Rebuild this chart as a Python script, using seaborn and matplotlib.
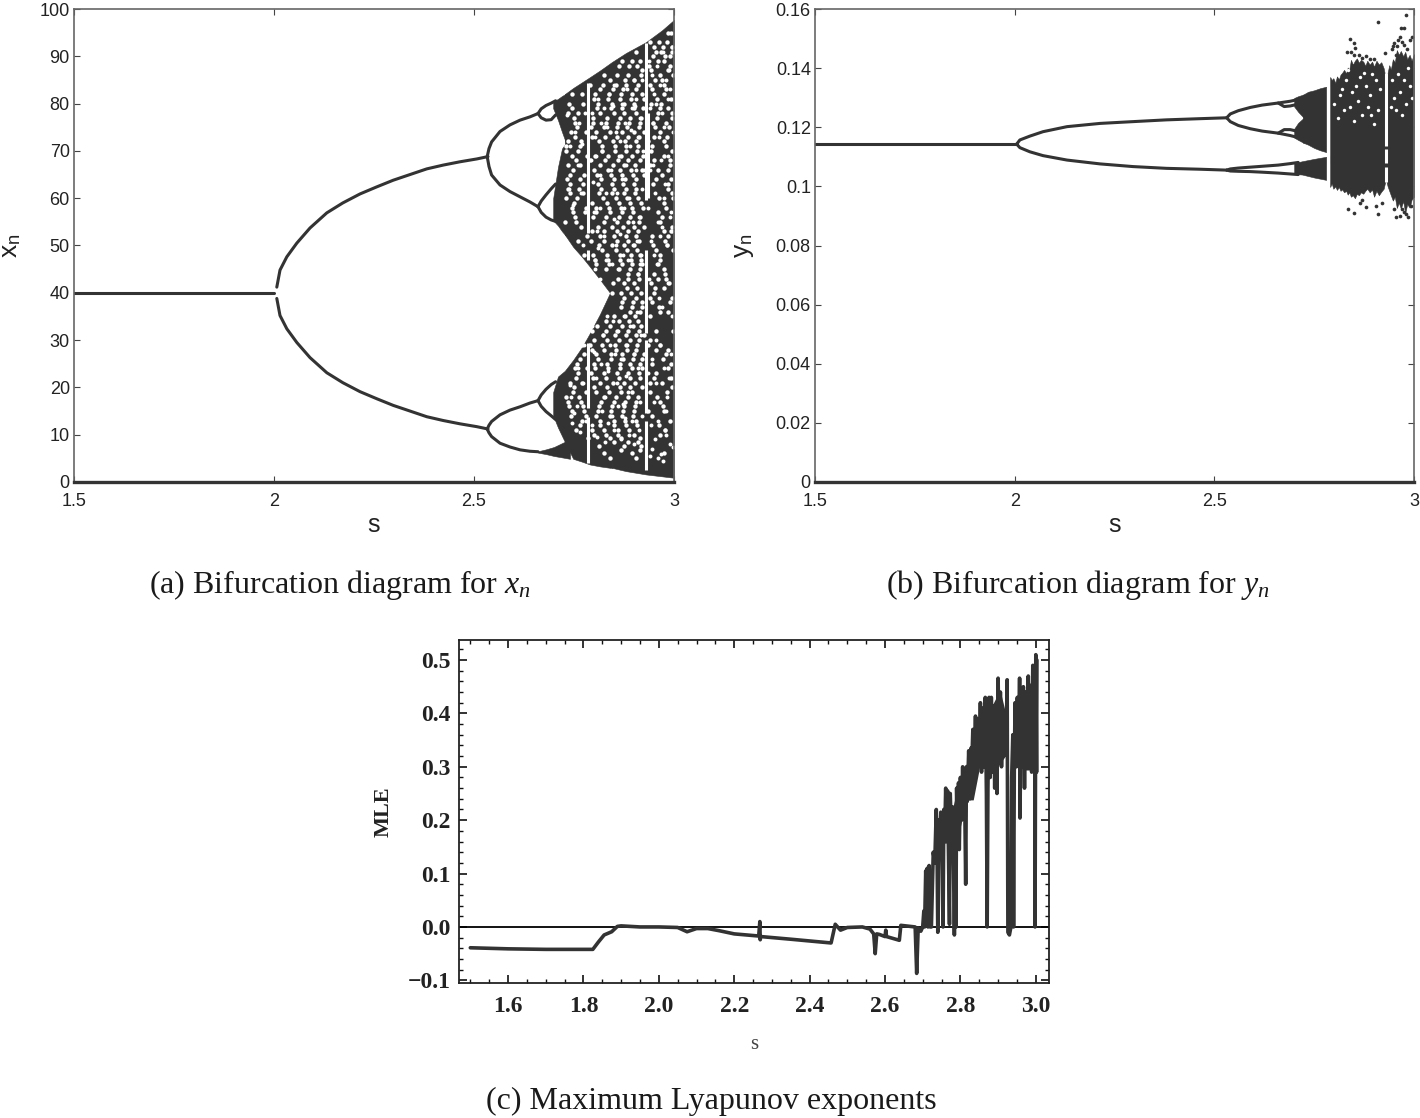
import matplotlib
matplotlib.use('Agg')
import matplotlib.pyplot as plt
import seaborn as sns
from matplotlib.ticker import MultipleLocator

DARK = '#333333'

# panel a, period doubling branches (s values, x values)
a_s1 = [1.5, 2.0]
a_x1 = [40, 40]
a_s2 = [2.007, 2.015, 2.032, 2.057, 2.09, 2.132, 2.172, 2.215, 2.257, 2.298, 2.34, 2.382, 2.423, 2.465, 2.507, 2.535]
a_up = [41.2, 44.8, 47.6, 50.5, 53.7, 56.9, 59, 60.9, 62.4, 63.8, 65, 66.2, 67, 67.7, 68.3, 68.8]
a_lo = [38.8, 35.2, 32.4, 29.5, 26.3, 23.1, 21, 19.1, 17.6, 16.2, 15, 13.8, 13, 12.3, 11.7, 11.2]
a_s3 = [2.533, 2.5375, 2.544, 2.565, 2.59, 2.615, 2.64, 2.66]
a_b1 = [68.8, 70.5, 71.9, 74.1, 75.5, 76.5, 77.2, 77.9]
a_b2 = [68.8, 66.7, 64.9, 62.8, 61.4, 60.3, 59.2, 58.2]
a_b3 = [11.2, 12, 12.8, 14.2, 15.2, 15.9, 16.7, 17.2]
a_b4 = [11.2, 10.4, 9.6, 8.2, 7.4, 6.8, 6.5, 6.4]
a_s4 = [2.66, 2.668, 2.68, 2.693, 2.704]
a_l1 = [77.9, 78.9, 79.6, 80.1, 80.6]
a_l2 = [77.9, 77, 76.5, 76.6, 77.6]
a_l3 = [58.2, 59.4, 60.7, 62, 63]
a_l4 = [58.2, 57, 56, 55.4, 55.1]
a_l5 = [17.2, 18.4, 19.6, 20.6, 21.2]
a_l6 = [17.2, 16, 14.9, 14, 13.2]

# panel a, chaotic bands (s, low edge, high edge)
c1_s = [2.698, 2.71, 2.72, 2.73]
c1_lo = [79, 76.5, 74, 71.7]
c1_hi = [80.4, 81, 81.6, 82.1]
c2_s = [2.698, 2.71, 2.72, 2.73]
c2_lo = [55.3, 54.2, 53, 52]
c2_hi = [60, 66.6, 70.5, 71.7]
c3_s = [2.727, 2.748, 2.77, 2.79, 2.815, 2.84, 2.845, 2.88, 2.93, 2.97, 3.0]
c3_lo = [52.3, 49.7, 47.6, 45.5, 42.8, 40, 3, 2.3, 1.6, 1.2, 0.9]
c3_hi = [82, 83.3, 84.5, 85.6, 87, 88.5, 88.8, 90.7, 93, 95.5, 97.7]
c4_s = [2.698, 2.71, 2.727, 2.748, 2.77, 2.79, 2.815, 2.84, 2.846]
c4_lo = [14, 11.5, 8.5, 4.9, 4.3, 3.7, 3.3, 3, 3]
c4_hi = [19, 22.3, 23.5, 25.8, 28.5, 31.5, 35.5, 40, 40]
c5_s = [2.66, 2.68, 2.70, 2.727, 2.74]
c5_lo = [6.2, 5.9, 5.5, 5.1, 4.9]
c5_hi = [6.5, 6.9, 7.4, 8.5, 9]

# panel a, white periodic windows
w_s = [2.785, 2.785, 2.785, 2.785, 2.93, 2.93, 2.93, 2.93, 2.936]
w_lo = [52.6, 47, 15.6, 4, 59.6, 31.5, 14.6, 2.5, 60]
w_hi = [84.4, 49, 29.4, 13.7, 92.8, 49, 30, 13, 78]

# panel a, white gaps in the chaos, read row by row
row_y = [95, 92, 93, 90, 91, 87, 89, 88, 85, 86,
         83, 81, 84, 79, 76, 78, 82, 75, 80, 77,
         71, 74, 68, 72, 66, 70, 65, 73, 67, 69,
         60, 63, 56, 64, 58, 55, 61, 59, 62, 57,
         51, 54, 48, 52, 46, 53, 50, 47, 49, 45,
         42, 37, 44, 39, 36, 41, 38, 43, 35, 40,
         34, 31, 33, 30, 28, 26, 25, 29, 27, 32,
         21, 24, 18, 15, 22, 17, 19, 23, 16, 20,
         12, 14, 11, 13, 9.2, 10, 7.6, 8.4, 6.2, 6.8, 5, 5.6, 3.8, 4.4]
row_s = [[2.985, 2.992], [2.95, 2.972, 2.996], [2.94, 2.962, 2.983], [2.948, 2.978, 2.99], [2.905, 2.955, 2.968, 2.995],
         [2.92, 2.943, 2.984], [2.87, 2.895, 2.915, 2.96, 2.976], [2.862, 2.888, 2.908, 2.937, 2.989], [2.84, 2.878, 2.9, 2.952, 2.97],
         [2.825, 2.858, 2.885, 2.917, 2.964, 2.998], [2.815, 2.847, 2.872, 2.906, 2.946, 2.981], [2.80, 2.835, 2.866, 2.893, 2.924, 2.958, 2.992],
         [2.79, 2.822, 2.855, 2.879, 2.91, 2.939, 2.974], [2.744, 2.808, 2.843, 2.87, 2.9, 2.922, 2.966, 2.986], [2.752, 2.797, 2.83, 2.861, 2.888, 2.914, 2.948, 2.979],
         [2.735, 2.76, 2.815, 2.85, 2.876, 2.906, 2.96, 2.994], [2.745, 2.77, 2.803, 2.838, 2.868, 2.895, 2.92, 2.975], [2.757, 2.792, 2.826, 2.858, 2.882, 2.912, 2.952, 2.987],
         [2.738, 2.773, 2.81, 2.845, 2.874, 2.901, 2.942, 2.968], [2.75, 2.798, 2.832, 2.866, 2.89, 2.918, 2.958, 2.996], [2.731, 2.764, 2.819, 2.853, 2.881, 2.909, 2.944, 2.98],
         [2.742, 2.779, 2.806, 2.84, 2.871, 2.9, 2.925, 2.966], [2.755, 2.79, 2.827, 2.86, 2.886, 2.914, 2.95, 2.99], [2.736, 2.768, 2.813, 2.847, 2.877, 2.904, 2.936, 2.974],
         [2.748, 2.8, 2.834, 2.864, 2.892, 2.92, 2.959, 2.984], [2.729, 2.76, 2.82, 2.852, 2.879, 2.908, 2.943, 2.996], [2.741, 2.776, 2.807, 2.842, 2.87, 2.898, 2.924, 2.969],
         [2.753, 2.794, 2.828, 2.858, 2.885, 2.913, 2.951, 2.982], [2.734, 2.766, 2.815, 2.848, 2.875, 2.902, 2.939, 2.99], [2.745, 2.782, 2.803, 2.836, 2.867, 2.894, 2.922, 2.975],
         [2.731, 2.758, 2.823, 2.855, 2.883, 2.91, 2.962, 2.998], [2.74, 2.773, 2.81, 2.844, 2.872, 2.9, 2.947, 2.985], [2.752, 2.797, 2.83, 2.862, 2.889, 2.916, 2.97],
         [2.733, 2.764, 2.817, 2.85, 2.878, 2.905, 2.955, 2.992], [2.746, 2.78, 2.806, 2.838, 2.868, 2.896, 2.923, 2.98], [2.728, 2.756, 2.825, 2.857, 2.884, 2.912, 2.966],
         [2.74, 2.772, 2.812, 2.846, 2.874, 2.902, 2.994], [2.751, 2.796, 2.832, 2.863, 2.89, 2.918, 2.975], [2.735, 2.763, 2.818, 2.851, 2.879, 2.906, 2.985],
         [2.748, 2.778, 2.804, 2.84, 2.869, 2.897, 2.96], [2.76, 2.792, 2.826, 2.858, 2.885, 2.913, 2.978], [2.768, 2.81, 2.844, 2.873, 2.9, 2.924, 2.995],
         [2.775, 2.798, 2.832, 2.865, 2.892, 2.915, 2.965], [2.782, 2.815, 2.85, 2.88, 2.905, 2.945, 2.985], [2.806, 2.838, 2.87, 2.895, 2.92, 2.96],
         [2.795, 2.825, 2.858, 2.886, 2.91, 2.975, 2.992], [2.812, 2.846, 2.875, 2.901, 2.948, 2.983], [2.802, 2.835, 2.866, 2.893, 2.918, 2.966],
         [2.82, 2.855, 2.882, 2.908, 2.955, 2.998], [2.83, 2.862, 2.89, 2.914, 2.975], [2.848, 2.874, 2.9, 2.943, 2.987], [2.868, 2.895, 2.92, 2.962],
         [2.885, 2.91, 2.95, 2.978], [2.876, 2.904, 2.94, 2.995], [2.89, 2.916, 2.966, 2.985], [2.882, 2.908, 2.952, 2.974], [2.87, 2.897, 2.921, 2.945, 2.99],
         [2.86, 2.886, 2.912, 2.96, 2.98], [2.85, 2.878, 2.903, 2.94], [2.845, 2.868, 2.893, 2.918, 2.95],
         [2.83, 2.862, 2.887, 2.91], [2.822, 2.853, 2.88, 2.905, 2.925], [2.808, 2.84, 2.87, 2.897, 2.918], [2.8, 2.833, 2.862, 2.889, 2.912, 2.94],
         [2.795, 2.825, 2.855, 2.882, 2.905, 2.955, 2.985], [2.765, 2.81, 2.843, 2.872, 2.898, 2.921, 2.972], [2.758, 2.8, 2.832, 2.864, 2.89, 2.914, 2.946, 2.992],
         [2.77, 2.79, 2.82, 2.852, 2.88, 2.908, 2.936, 2.965], [2.748, 2.776, 2.806, 2.842, 2.87, 2.9, 2.924, 2.98], [2.76, 2.795, 2.83, 2.858, 2.886, 2.913, 2.954, 2.997],
         [2.74, 2.77, 2.816, 2.848, 2.876, 2.903, 2.94, 2.97], [2.752, 2.782, 2.803, 2.836, 2.866, 2.894, 2.92, 2.985], [2.73, 2.763, 2.824, 2.856, 2.884, 2.91, 2.958],
         [2.744, 2.776, 2.81, 2.843, 2.872, 2.9, 2.935, 2.975], [2.755, 2.797, 2.83, 2.862, 2.89, 2.916, 2.95, 2.993], [2.735, 2.768, 2.818, 2.85, 2.878, 2.906, 2.965],
         [2.748, 2.78, 2.805, 2.838, 2.868, 2.896, 2.94, 2.982], [2.76, 2.792, 2.826, 2.857, 2.884, 2.912, 2.955], [2.738, 2.772, 2.812, 2.845, 2.874, 2.903, 2.972],
         [2.75, 2.8, 2.833, 2.865, 2.89, 2.92, 2.996], [2.765, 2.815, 2.85, 2.88, 2.908, 2.962], [2.742, 2.78, 2.806, 2.84, 2.87, 2.898, 2.945],
         [2.755, 2.795, 2.826, 2.86, 2.888, 2.978], [2.77, 2.815, 2.85, 2.877, 2.905, 2.99], [2.785, 2.84, 2.868, 2.915],
         [2.8, 2.83, 2.86, 2.9, 2.966], [2.812, 2.875, 2.918], [2.85, 2.885, 2.91], [2.826, 2.896, 2.975], [2.868, 2.915], [2.84, 2.905]]

# panel a, more white gaps, loose points
h_s = [2.733, 2.741, 2.738, 2.752, 2.747, 2.759, 2.744, 2.763, 2.756, 2.771, 2.767, 2.778, 2.749, 2.773, 2.736, 2.758, 2.765, 2.776,
       2.795, 2.802, 2.797, 2.811, 2.806, 2.818, 2.799, 2.814, 2.826, 2.808, 2.821, 2.833, 2.803, 2.829, 2.816, 2.838, 2.793, 2.824, 2.842, 2.809,
       2.847, 2.855, 2.851, 2.862, 2.858, 2.871, 2.866, 2.849, 2.877, 2.869, 2.883, 2.874, 2.889, 2.856, 2.881, 2.895, 2.864, 2.887, 2.901, 2.892,
       2.906, 2.911, 2.904, 2.916, 2.919, 2.913, 2.923, 2.908, 2.921, 2.898, 2.914, 2.925, 2.902, 2.917,
       2.794, 2.801, 2.812, 2.805, 2.823, 2.817, 2.832, 2.827, 2.841, 2.835, 2.848, 2.853, 2.844, 2.861, 2.857, 2.868, 2.875, 2.872, 2.882, 2.879, 2.891, 2.886, 2.899, 2.896, 2.907, 2.91, 2.918, 2.915,
       2.74, 2.752, 2.746, 2.761, 2.769, 2.757, 2.775, 2.734, 2.764, 2.743, 2.772, 2.75, 2.779, 2.755,
       2.796, 2.807, 2.819, 2.828, 2.836, 2.85, 2.859, 2.867, 2.878, 2.888, 2.9, 2.912, 2.92, 2.803, 2.815, 2.831, 2.846, 2.86, 2.873, 2.884, 2.897, 2.909,
       2.938, 2.944, 2.951, 2.958, 2.965, 2.973, 2.98, 2.987, 2.994, 2.941, 2.948, 2.955, 2.962, 2.969, 2.976, 2.984, 2.991, 2.997,
       2.936, 2.947, 2.953, 2.96, 2.967, 2.971, 2.978, 2.986, 2.993, 2.942, 2.95, 2.957, 2.964, 2.975, 2.982, 2.989, 2.996, 2.939,
       2.945, 2.956, 2.966, 2.974, 2.983, 2.992, 2.937, 2.949, 2.961, 2.97, 2.979, 2.988, 2.943, 2.954, 2.963, 2.977, 2.985, 2.995,
       2.952, 2.968, 2.981, 2.99, 2.946, 2.959, 2.972, 2.94, 2.998, 2.935]
h_y = [77.5, 71, 62, 74, 58.5, 67, 48, 76, 42.5, 71.5, 61, 78, 37, 50, 33.5, 29.5, 36, 33,
       78, 73, 63.5, 81, 69, 76, 57, 65, 79, 53, 70, 75, 47, 61, 58, 82, 68, 52, 66, 49.5,
       79.5, 74, 84, 69, 61, 80, 72, 55.5, 76, 64, 83, 58, 71, 50, 67, 79, 52.5, 60, 85, 74.5,
       81, 73, 66, 77, 62, 56, 70, 51, 85, 55, 46, 66, 79.5, 48,
       33, 27.5, 37, 22, 31, 25, 35, 18, 29, 23.5, 34, 27, 14, 32, 21, 26, 35, 16.5, 29, 22.5, 33, 19, 27, 13, 36, 24, 31, 17,
       20.5, 30, 12.5, 24, 38, 16, 29, 27, 10.5, 18, 21, 14.5, 13, 43,
       12, 9.5, 15, 8.5, 12.5, 11, 16, 9, 13.5, 10, 8, 11, 14, 45, 43, 47, 46, 45, 48, 47, 50, 44,
       89, 86, 82, 88, 84, 91, 85, 87, 92, 79, 76, 80, 73, 78, 75, 81, 83, 74,
       58, 67, 61, 55, 68, 54, 63, 69, 57, 51, 48, 46, 52, 60, 50, 56, 53, 66,
       26, 21, 29, 24, 18, 27, 43, 17, 13, 37, 15, 22, 12, 30, 39, 11, 42, 35,
       9, 6, 10, 8, 7, 5, 4.5, 5.5, 7.5, 23]

# panel b, branches
b_s1 = [1.5, 2.005]
b_y1 = [0.1143, 0.1143]
b_s2 = [2.005, 2.013, 2.038, 2.071, 2.131, 2.214, 2.296, 2.38, 2.464, 2.531]
b_up = [0.1143, 0.1157, 0.117, 0.1185, 0.1202, 0.1213, 0.1219, 0.1225, 0.1229, 0.1232]
b_dn = [0.1143, 0.1131, 0.1117, 0.1104, 0.1089, 0.1076, 0.1067, 0.1061, 0.1058, 0.1055]
b_s3 = [2.531, 2.54, 2.56, 2.59, 2.62, 2.66, 2.69, 2.71]
b_t1 = [0.1232, 0.1245, 0.1256, 0.1267, 0.1275, 0.1282, 0.1288, 0.1294]
b_t2 = [0.1232, 0.1219, 0.1206, 0.1195, 0.1187, 0.118, 0.1172, 0.1165]
b_t3 = [0.1055, 0.1059, 0.1062, 0.1065, 0.1068, 0.1072, 0.1077, 0.1081]
b_t4 = [0.1055, 0.1052, 0.1051, 0.105, 0.1048, 0.1045, 0.1042, 0.104]
b_s5 = [2.66, 2.675, 2.69, 2.703]
b_k1 = [0.1282, 0.127, 0.1272, 0.1276]
b_k2 = [0.118, 0.1192, 0.1192, 0.1188]

# panel b, chaotic bands
d1_s = [2.70, 2.71, 2.724]
d1_lo = [0.127, 0.1252, 0.1232]
d1_hi = [0.1299, 0.1305, 0.1311]
d2_s = [2.70, 2.71, 2.724]
d2_lo = [0.1165, 0.1157, 0.1147]
d2_hi = [0.1195, 0.1215, 0.1232]
d3_s = [2.722, 2.735, 2.75, 2.765, 2.78]
d3_lo = [0.1148, 0.1141, 0.113, 0.1122, 0.1116]
d3_hi = [0.131, 0.132, 0.1325, 0.1332, 0.1337]
d5_s = [2.70, 2.72, 2.75, 2.78]
d5_lo = [0.1042, 0.104, 0.103, 0.1022]
d5_hi = [0.1079, 0.1085, 0.1093, 0.11]

# panel b, jagged edges of the big band
d4_s = [2.79, 2.794, 2.798, 2.803, 2.807, 2.812, 2.816, 2.82, 2.825, 2.83, 2.834, 2.838, 2.842, 2.847, 2.852, 2.857, 2.862, 2.867, 2.873, 2.878, 2.883, 2.889,
        2.895, 2.9, 2.906, 2.912, 2.918, 2.924, 2.927, 2.93, 2.934, 2.938, 2.942, 2.947, 2.952, 2.957, 2.962, 2.967, 2.973, 2.978, 2.983, 2.989, 2.994, 3.0]
d4_hi = [0.137, 0.136, 0.1366, 0.135, 0.1372, 0.1362, 0.1378, 0.1384, 0.1394, 0.1382, 0.1402, 0.1395, 0.1428, 0.1412, 0.1425, 0.1433, 0.1418, 0.1428, 0.1422, 0.1408, 0.1425, 0.1412,
         0.1422, 0.1405, 0.1425, 0.1412, 0.142, 0.14, 0.138, 0.136, 0.1385, 0.141, 0.1395, 0.143, 0.142, 0.1461, 0.1445, 0.1458, 0.144, 0.1455, 0.143, 0.1445, 0.1425, 0.1448]
d4_lo = [0.0998, 0.101, 0.0992, 0.1, 0.0988, 0.0998, 0.0985, 0.099, 0.098, 0.0985, 0.0972, 0.098, 0.0965, 0.097, 0.096, 0.0975, 0.097, 0.098, 0.0975, 0.0985, 0.0992, 0.098,
         0.099, 0.0965, 0.0985, 0.097, 0.0982, 0.0992, 0.101, 0.1022, 0.1, 0.0985, 0.097, 0.0952, 0.0965, 0.0927, 0.0945, 0.0925, 0.095, 0.091, 0.094, 0.0928, 0.0955, 0.0965]

b_w_s = [2.785, 2.785, 2.93, 2.93, 2.93]
b_w_lo = [0.1015, 0.1105, 0.1015, 0.108, 0.1135]
b_w_hi = [0.1075, 0.134, 0.1065, 0.1125, 0.1385]

# panel b, stray points outside the bands
o_s = [2.84, 2.85, 2.853, 2.832, 2.91, 2.927, 2.98, 2.967, 2.974, 2.955, 2.96, 2.99, 2.995, 2.966, 2.97, 2.95, 2.945,
       2.862, 2.87, 2.88, 2.89, 2.9, 2.85, 2.842, 2.983, 2.948, 2.958, 2.975,
       2.835, 2.85, 2.865, 2.905, 2.91, 2.95, 2.965, 2.976, 2.985, 2.992, 2.87, 2.88, 2.92, 2.955, 2.97, 2.98]
o_y = [0.1498, 0.1485, 0.1468, 0.1455, 0.1555, 0.1452, 0.158, 0.1535, 0.1535, 0.1445, 0.1495, 0.1495, 0.1505, 0.1505, 0.149, 0.1485, 0.1465,
       0.1445, 0.1435, 0.144, 0.1432, 0.143, 0.1445, 0.1455, 0.1465, 0.1475, 0.1475, 0.1478,
       0.0925, 0.091, 0.0945, 0.0935, 0.0905, 0.0925, 0.09, 0.0915, 0.0895, 0.0935, 0.0955, 0.093, 0.0945, 0.0898, 0.0925, 0.0905]

# panel b, white gaps in the upper half
bh_s = [2.80, 2.82, 2.84, 2.86, 2.87, 2.89, 2.91, 2.83, 2.85, 2.88, 2.9, 2.95, 2.97, 2.99, 2.96, 2.98, 2.81, 2.865, 2.895, 2.845,
        2.875, 2.905, 2.815, 2.855, 2.885, 2.945, 2.965, 2.985, 2.835, 2.915, 2.955, 2.975, 2.995, 2.825, 2.892, 2.942]
bh_y = [0.128, 0.133, 0.127, 0.129, 0.124, 0.131, 0.126, 0.136, 0.122, 0.134, 0.121, 0.13, 0.124, 0.134, 0.138, 0.128, 0.123, 0.137, 0.138, 0.132,
        0.1385, 0.136, 0.131, 0.134, 0.127, 0.136, 0.132, 0.14, 0.1395, 0.133, 0.126, 0.136, 0.13, 0.126, 0.124, 0.127]

# panel c, line
m_s = [1.5, 1.6, 1.7, 1.825, 1.84, 1.855, 1.875, 1.89, 1.9, 1.95, 2.0, 2.05, 2.075, 2.1, 2.13, 2.16, 2.2, 2.265, 2.268, 2.269, 2.27,
       2.35, 2.457, 2.468, 2.482, 2.5, 2.54, 2.56, 2.57, 2.574, 2.578, 2.585, 2.6, 2.602, 2.604, 2.638, 2.642, 2.68, 2.684, 2.688, 2.695,
       2.7, 2.703, 2.705, 2.708, 2.71, 2.712, 2.714, 2.717, 2.72, 2.723, 2.728, 2.732, 2.736, 2.738, 2.74, 2.742, 2.745, 2.748, 2.751,
       2.754, 2.756, 2.758, 2.761, 2.763, 2.766, 2.769, 2.771, 2.773, 2.776, 2.779, 2.782, 2.784, 2.786, 2.788, 2.79, 2.793, 2.795,
       2.797, 2.8, 2.803, 2.806, 2.808, 2.811, 2.814, 2.816, 2.818, 2.822, 2.825, 2.828, 2.83, 2.833, 2.836, 2.84, 2.843, 2.846, 2.85,
       2.853, 2.856, 2.86, 2.863, 2.866, 2.869, 2.871, 2.873, 2.876, 2.879, 2.882, 2.885, 2.888, 2.891, 2.894, 2.897, 2.9, 2.903,
       2.906, 2.909, 2.912, 2.915, 2.918, 2.921, 2.924, 2.926, 2.93, 2.934, 2.936, 2.939, 2.941, 2.943, 2.945, 2.948, 2.951, 2.955,
       2.957, 2.958, 2.961, 2.964, 2.967, 2.97, 2.973, 2.976, 2.98, 2.983, 2.986, 2.989, 2.992, 2.994, 2.997, 2.998, 3.0, 3.002, 3.003]
m_v = [-0.039, -0.041, -0.042, -0.042, -0.028, -0.015, -0.009, 0.001, 0.002, 0.0, 0.0, -0.001, -0.009, -0.003, -0.003, -0.007, -0.013, -0.017, 0.01, -0.024, -0.018,
       -0.023, -0.03, 0.005, -0.006, -0.001, 0.0, -0.004, -0.013, -0.05, -0.013, -0.014, -0.018, -0.006, -0.018, -0.025, 0.003, 0.0, -0.087, -0.002, -0.008,
       0.0, 0.03, 0.0, 0.105, 0.055, 0.11, 0.0, 0.115, 0.0, 0.0, 0.14, 0.12, 0.22, 0.15, -0.01, 0.2, 0.14, 0.215, 0.12,
       0.0, 0.22, 0.16, 0.26, 0.19, 0.255, 0.1, 0.005, 0.25, 0.18, 0.225, 0.1, -0.015, 0.12, 0.0, 0.26, 0.15, 0.27,
       0.145, 0.28, 0.2, 0.3, 0.21, 0.27, 0.08, 0.3, 0.235, 0.33, 0.24, 0.335, 0.3, 0.37, 0.29, 0.395, 0.29, 0.39, 0.31,
       0.42, 0.29, 0.41, 0.3, 0.43, 0.25, 0.0, 0.26, 0.43, 0.28, 0.43, 0.29, 0.41, 0.26, 0.4, 0.25, 0.466, 0.32,
       0.44, 0.3, 0.4, 0.34, 0.37, 0.33, 0.463, -0.01, -0.015, 0.0, 0.28, 0.36, 0.0, 0.3, 0.42, 0.3, 0.43, 0.3,
       0.466, 0.204, 0.41, 0.33, 0.45, 0.26, 0.44, 0.31, 0.47, 0.31, 0.44, 0.29, 0.49, 0.33, 0.49, 0.0, 0.51, 0.29, 0.5]

# panel c, solid core of the oscillation, left and right of the white gap near 2.93
core1_s = [2.745, 2.763, 2.78, 2.798, 2.816, 2.834, 2.851, 2.869, 2.887, 2.905, 2.918, 2.922]
core1_lo = [0.157, 0.157, 0.12, 0.182, 0.238, 0.238, 0.3, 0.3, 0.288, 0.306, 0.319, 0.32]
core1_hi = [0.206, 0.225, 0.225, 0.275, 0.306, 0.319, 0.369, 0.413, 0.419, 0.444, 0.406, 0.4]
core2_s = [2.942, 2.949, 2.967, 2.989, 3.002]
core2_lo = [0.31, 0.306, 0.294, 0.294, 0.294]
core2_hi = [0.41, 0.425, 0.437, 0.462, 0.5]


def add_axes(left, top, right, bottom):
    return fig.add_axes([left / W, 1 - bottom / H, (right - left) / W, (bottom - top) / H])


def branch(ax, x, y):
    sns.lineplot(x=x, y=y, ax=ax, color=DARK, linewidth=2.2, estimator=None, sort=False)


def style_sans(ax, ylabel, ypad):
    ax.set_xlim(1.5, 3)
    ax.set_xticks([1.5, 2, 2.5, 3])
    ax.set_xticklabels(['1.5', '2', '2.5', '3'])
    ax.tick_params(direction='in', top=True, right=True, length=4, width=0.8, color='#444444',
                   labelsize=13, labelcolor='#222222', pad=3)
    ax.tick_params(axis='x', pad=8)
    ax.set_xlabel('s', fontsize=18, labelpad=2, color='#222222')
    ax.set_ylabel(ylabel, fontsize=19, labelpad=ypad, color='#222222')
    for side in ['left', 'top', 'right']:
        ax.spines[side].set_linewidth(1.2)
        ax.spines[side].set_color('#666666')
    ax.spines['bottom'].set_linewidth(2.4)
    ax.spines['bottom'].set_color(DARK)


sns.set_theme(style='ticks')
plt.rcParams['font.family'] = ['Liberation Sans', 'DejaVu Sans']
plt.rcParams['mathtext.fontset'] = 'custom'
plt.rcParams['mathtext.rm'] = 'Liberation Serif'
plt.rcParams['mathtext.it'] = 'Liberation Serif:italic'

W, H = 1420, 1118
fig = plt.figure(figsize=(W / 100, H / 100), dpi=100)

# (a)
ax = add_axes(74, 9, 674, 482)
branch(ax, a_s1, a_x1)
for ys in [a_up, a_lo]:
    branch(ax, a_s2, ys)
for ys in [a_b1, a_b2, a_b3, a_b4]:
    branch(ax, a_s3, ys)
for ys in [a_l1, a_l2, a_l3, a_l4, a_l5, a_l6]:
    branch(ax, a_s4, ys)
for sv, lo, hi in [(c1_s, c1_lo, c1_hi), (c2_s, c2_lo, c2_hi), (c3_s, c3_lo, c3_hi), (c4_s, c4_lo, c4_hi), (c5_s, c5_lo, c5_hi)]:
    ax.fill_between(sv, lo, hi, color=DARK, linewidth=0.4)
ax.vlines(w_s, w_lo, w_hi, color='white', linewidth=2.2)
speck_s = [v for y, vals in zip(row_y, row_s) for v in vals]
speck_y = [y for y, vals in zip(row_y, row_s) for v in vals]
sns.scatterplot(x=speck_s, y=speck_y, ax=ax, color='white', s=10, marker='o', linewidth=0)
sns.scatterplot(x=h_s, y=h_y, ax=ax, color='white', s=8, marker='o', linewidth=0)
ax.set_ylim(0, 100)
ax.set_yticks(range(0, 101, 10))
style_sans(ax, r'x$_{\mathregular{n}}$', 12)

# (b)
ax = add_axes(815, 9, 1414, 482)
branch(ax, b_s1, b_y1)
for ys in [b_up, b_dn]:
    branch(ax, b_s2, ys)
for ys in [b_t1, b_t2, b_t3, b_t4]:
    branch(ax, b_s3, ys)
for ys in [b_k1, b_k2]:
    branch(ax, b_s5, ys)
for sv, lo, hi in [(d1_s, d1_lo, d1_hi), (d2_s, d2_lo, d2_hi), (d3_s, d3_lo, d3_hi), (d4_s, d4_lo, d4_hi), (d5_s, d5_lo, d5_hi)]:
    ax.fill_between(sv, lo, hi, color=DARK, linewidth=0.4)
ax.vlines(b_w_s, b_w_lo, b_w_hi, color='white', linewidth=2.2)
sns.scatterplot(x=bh_s, y=bh_y, ax=ax, color='white', s=6, linewidth=0)
sns.scatterplot(x=o_s, y=o_y, ax=ax, color=DARK, s=7, linewidth=0)
ax.set_ylim(0, 0.16)
ax.set_yticks([0, 0.02, 0.04, 0.06, 0.08, 0.1, 0.12, 0.14, 0.16])
ax.set_yticklabels(['0', '0.02', '0.04', '0.06', '0.08', '0.1', '0.12', '0.14', '0.16'])
style_sans(ax, r'y$_{\mathregular{n}}$', 14)

# (c)
ax = add_axes(459, 640, 1049, 983)
ax.axhline(0, color='black', linewidth=1.3)
sns.lineplot(x=m_s, y=m_v, ax=ax, color=DARK, linewidth=2.6, estimator=None, sort=False)
ax.fill_between(core1_s, core1_lo, core1_hi, color=DARK, linewidth=0)
ax.fill_between(core2_s, core2_lo, core2_hi, color=DARK, linewidth=0)
ax.set_xlim(1.47, 3.035)
ax.set_ylim(-0.105, 0.5375)
ax.xaxis.set_major_locator(MultipleLocator(0.2))
ax.xaxis.set_minor_locator(MultipleLocator(0.05))
ax.yaxis.set_major_locator(MultipleLocator(0.1))
ax.yaxis.set_minor_locator(MultipleLocator(0.02))
ax.tick_params(which='major', direction='in', top=True, right=True, length=6, width=1.2, color='#111111',
               labelsize=17, pad=6, labelcolor='#222222')
ax.tick_params(axis='x', which='major', pad=9)
ax.tick_params(which='minor', direction='in', top=True, right=True, length=3, width=1.0, color='#111111')
for label in ax.get_xticklabels() + ax.get_yticklabels():
    label.set_family('Liberation Serif')
    label.set_fontweight('bold')
ax.set_xlabel('s', fontsize=15, family='Liberation Serif', labelpad=13, color='#444444')
ax.set_ylabel('MLE', fontsize=16, family='Liberation Serif', fontweight='bold', labelpad=10, color='#222222')
for side in ax.spines:
    ax.spines[side].set_linewidth(1.3)
    ax.spines[side].set_color('#222222')

for cx, cy, txt in [(340, 585, r'(a) Bifurcation diagram for $\mathit{x_n}$'),
                    (1078, 585, r'(b) Bifurcation diagram for $\mathit{y_n}$'),
                    (711, 1101, '(c) Maximum Lyapunov exponents')]:
    fig.text(cx / W, 1 - cy / H, txt, ha='center', va='center', fontsize=23,
             family='Liberation Serif', color='#1a1a1a')

fig.savefig('out.png', dpi=100)
